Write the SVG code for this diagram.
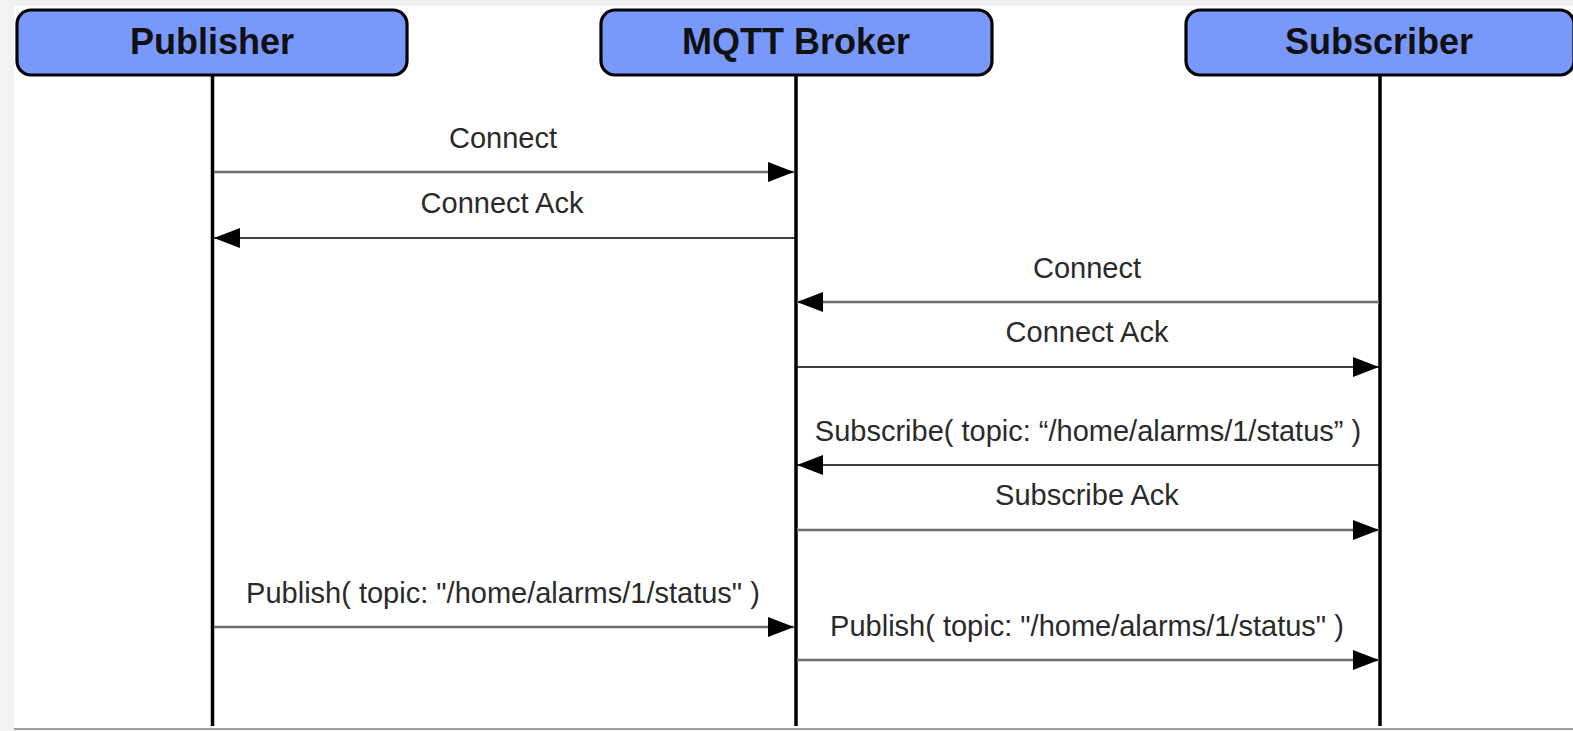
<svg xmlns="http://www.w3.org/2000/svg" width="1573" height="731" viewBox="0 0 1573 731">
<style>
.box{fill:#7898fc;stroke:#000;stroke-width:3.2}
.title{font-family:"Liberation Sans",Arial,sans-serif;font-weight:bold;font-size:36px;fill:#111;text-anchor:middle}
.life{stroke:#000;stroke-width:3.5}
.lbl{font-family:"Liberation Sans",Arial,sans-serif;font-size:29px;fill:#2a2a2a;text-anchor:middle}
.g{stroke:#6e6e6e;stroke-width:2.4;fill:none}
.k{stroke:#000;stroke-width:1.6;fill:none}
</style>
<defs>
<marker id="ah" markerUnits="userSpaceOnUse" markerWidth="28" markerHeight="22" refX="26" refY="10" orient="auto">
<path d="M0,0 L26,10 L0,20 Z" fill="#000"/>
</marker>
</defs>
<rect x="0" y="0" width="1573" height="731" fill="#f2f2f2"/>
<rect x="14" y="6" width="1559" height="722" fill="#fff"/>
<rect x="14" y="728" width="1559" height="2" fill="#a0a0a0"/>
<g id="publisher">
<line class="life" x1="212.5" y1="75" x2="212.5" y2="726"/>
<rect class="box" x="17" y="10" width="390" height="65" rx="14"/>
<text class="title" x="212" y="54">Publisher</text>
</g>
<g id="broker">
<line class="life" x1="796" y1="75" x2="796" y2="726"/>
<rect class="box" x="601" y="10" width="391" height="65" rx="14"/>
<text class="title" x="796" y="54">MQTT Broker</text>
</g>
<g id="subscriber">
<line class="life" x1="1380" y1="75" x2="1380" y2="726"/>
<rect class="box" x="1186" y="10" width="388" height="65" rx="14"/>
<text class="title" x="1379" y="54">Subscriber</text>
</g>
<g id="connectors">
<line class="g" x1="214" y1="172" x2="794" y2="172" marker-end="url(#ah)"/>
<text class="lbl" x="503" y="148">Connect</text>
<line class="k" x1="795" y1="238" x2="214" y2="238" marker-end="url(#ah)"/>
<text class="lbl" x="502" y="213">Connect Ack</text>
<line class="g" x1="1379" y1="302" x2="797" y2="302" marker-end="url(#ah)"/>
<text class="lbl" x="1087" y="278">Connect</text>
<line class="k" x1="797" y1="367" x2="1379" y2="367" marker-end="url(#ah)"/>
<text class="lbl" x="1087" y="342">Connect Ack</text>
<line class="k" x1="1379" y1="465" x2="797" y2="465" marker-end="url(#ah)"/>
<text class="lbl" x="1088" y="441">Subscribe( topic: “/home/alarms/1/status” )</text>
<line class="g" x1="797" y1="530" x2="1379" y2="530" marker-end="url(#ah)"/>
<text class="lbl" x="1087" y="505">Subscribe Ack</text>
<line class="g" x1="214" y1="627" x2="794" y2="627" marker-end="url(#ah)"/>
<text class="lbl" x="503" y="603">Publish( topic: "/home/alarms/1/status" )</text>
<line class="g" x1="797" y1="660" x2="1379" y2="660" marker-end="url(#ah)"/>
<text class="lbl" x="1087" y="636">Publish( topic: "/home/alarms/1/status" )</text>
</g>
</svg>
